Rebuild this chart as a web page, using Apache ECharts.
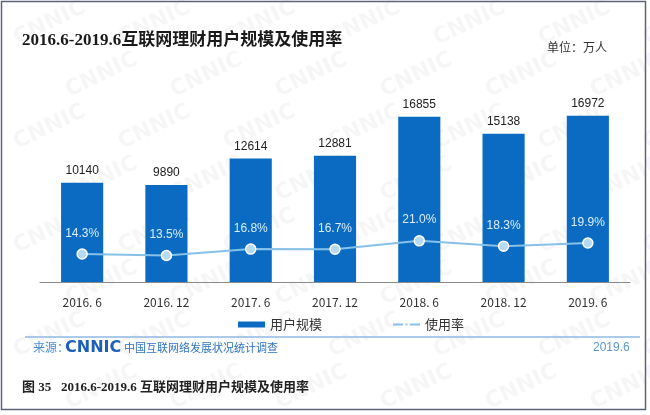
<!DOCTYPE html>
<html><head><meta charset="utf-8">
<script src="https://cdn.jsdelivr.net/npm/echarts@6/dist/echarts.min.js"></script>
<style>html,body{margin:0;padding:0;background:#fff}#c{width:650px;height:415px}</style>
</head><body><div id="c"></div>
<script>
const categories = ['2016. 6','2016. 12','2017. 6','2017. 12','2018. 6','2018. 12','2019. 6'];
const users = [10140, 9890, 12614, 12881, 16855, 15138, 16972];
const rate = [14.3, 13.5, 16.8, 16.7, 21.0, 18.3, 19.9];
const titleText = '2016.6-2019.6互联网理财用户规模及使用率';
const captionText = '图 35   2016.6-2019.6 互联网理财用户规模及使用率';

const chart = echarts.init(document.getElementById('c'), null, {renderer:'canvas'});
const sansCJK = '"Noto Sans CJK SC", "Noto Sans", sans-serif';
const serifCJK = '"Liberation Serif", "Noto Sans CJK SC", serif';

const watermarks = [];
for (let r = 0; r < 8; r++) {
  for (let c = 0; c < 7; c++) {
    watermarks.push({
      type:'text', x: 10 + c * 105 + (r % 2) * 52, y: 30 + r * 52, rotation: Math.PI / 7, silent:true, z:-10,
      style:{text:'CNNIC', font:'bold 22px "DejaVu Sans", sans-serif', fill:'rgba(0,0,0,0.035)'}
    });
  }
}

chart.setOption({
  animation:false,
  backgroundColor:'#fff',
  grid:{left:40, right:20, top:86, bottom:133, containLabel:false},
  legend:{
    data:[{name:'用户规模', icon:'rect'}, {name:'使用率'}],
    left:233, top:313, itemWidth:27, itemHeight:6, itemGap:70,
    textStyle:{fontFamily:sansCJK, fontSize:13, color:'#333'}
  },
  xAxis:{
    type:'category', data:categories,
    axisLine:{lineStyle:{color:'#8a8a8a', width:1}},
    axisTick:{show:false},
    axisLabel:{fontFamily:sansCJK, fontSize:12, color:'#333', margin:14}
  },
  yAxis:[
    {type:'value', min:0, max:20000, show:false, splitLine:{show:false}},
    {type:'value', min:0, max:100, show:false, splitLine:{show:false}}
  ],
  series:[
    {
      name:'用户规模', type:'bar', data:users, barWidth:'50%',
      itemStyle:{color:'#0b6bc2'},
      label:{show:true, position:'top', distance:6, fontFamily:'"Liberation Sans", Arial, sans-serif', fontSize:12, color:'#222'}
    },
    {
      name:'使用率', type:'line', yAxisIndex:1, data:rate,
      symbol:'circle', symbolSize:10,
      lineStyle:{color:'#86c1ea', width:2},
      itemStyle:{color:'#b5daf2', borderColor:'#ffffff', borderWidth:1.5},
      label:{show:true, position:'top', distance:9, formatter: p => p.value.toFixed(1) + '%',
        fontFamily:'"Liberation Sans", Arial, sans-serif', fontSize:12, color:'#d9eefb'}
    }
  ],
  graphic: watermarks.concat([
    {type:'rect', shape:{x:1.5, y:1.5, width:644, height:408}, style:{fill:'none', stroke:'#5b6478', lineWidth:1.5}, silent:true},
    {type:'text', left:22, top:32, style:{text:titleText, font:'bold 17px ' + serifCJK, fill:'#1a1a1a'}},
    {type:'text', left:547, top:41, style:{text:'单位：万人', font:'12px ' + sansCJK, fill:'#333'}},
    {type:'line', shape:{x1:25, y1:337, x2:640, y2:337}, style:{stroke:'#8fb9e3', lineWidth:1.5}},
    {type:'text', left:33, top:341, style:{text:'来源：', font:'12px ' + sansCJK, fill:'#4a8fd4'}},
    {type:'text', left:65, top:340, style:{text:'CNNIC', font:'bold 16px "DejaVu Sans", sans-serif', fill:'#1d60b8'}},
    {type:'text', left:124, top:342, style:{text:'中国互联网络发展状况统计调查', font:'11px ' + sansCJK, fill:'#2f74c4'}},
    {type:'text', left:593, top:342, style:{text:'2019.6', font:'12px "Liberation Sans", Arial, sans-serif', fill:'#5b95d0'}},
    {type:'text', left:22, top:381, style:{text:captionText, font:'bold 13px ' + serifCJK, fill:'#222'}}
  ])
});
</script></body></html>
